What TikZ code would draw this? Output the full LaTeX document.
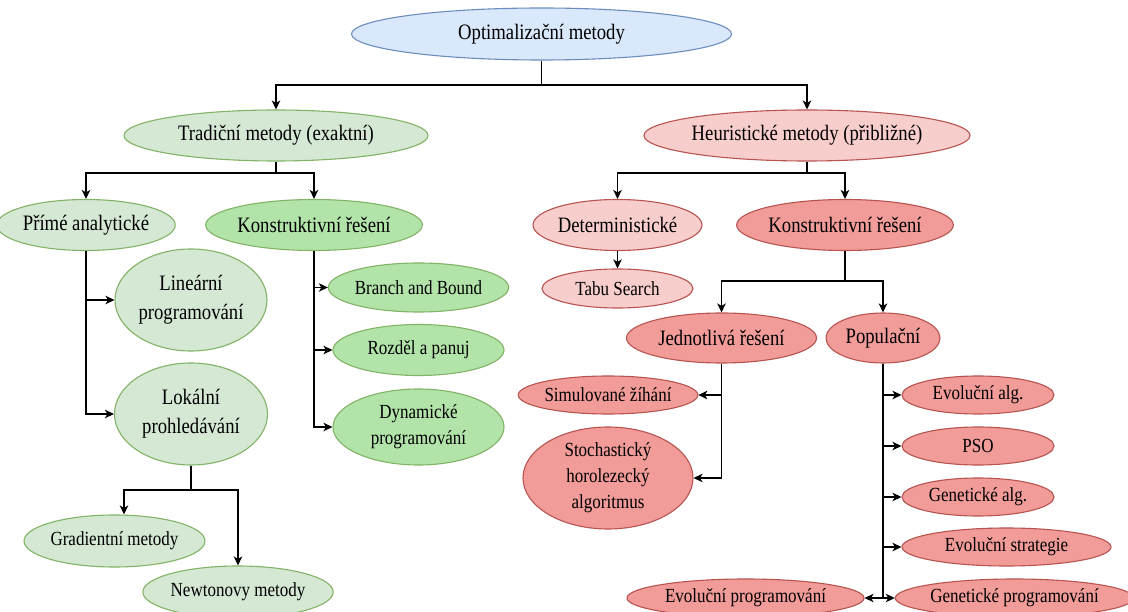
\documentclass[tikz,border=0pt]{standalone}
\usepackage{fontspec}
\setmainfont{Liberation Serif}[FakeStretch=0.85]
\usetikzlibrary{shapes.geometric,arrows.meta}
\definecolor{rootF}{HTML}{DAE8FC}
\definecolor{rootD}{HTML}{6C8EBF}
\definecolor{glF}{HTML}{D5E8D4}
\definecolor{gD}{HTML}{82B366}
\definecolor{gdF}{HTML}{B2E4AA}
\definecolor{rlF}{HTML}{F8CECC}
\definecolor{rD}{HTML}{B85450}
\definecolor{rdF}{HTML}{F19C99}
\newcommand\bigfnt{\fontsize{22}{29}\selectfont}
\newcommand\smfnt{\fontsize{20}{26}\selectfont}
\tikzset{
  base/.style={ellipse, draw, line width=1.1pt, inner sep=0pt, align=center, text=black},
  nroot/.style={base, fill=rootF, draw=rootD, font=\bigfnt},
  nglb/.style={base, fill=glF, draw=gD, font=\bigfnt},
  ngls/.style={base, fill=glF, draw=gD, font=\smfnt},
  ngdb/.style={base, fill=gdF, draw=gD, font=\bigfnt},
  ngds/.style={base, fill=gdF, draw=gD, font=\smfnt},
  nrlb/.style={base, fill=rlF, draw=rD, font=\bigfnt},
  nrls/.style={base, fill=rlF, draw=rD, font=\smfnt},
  nrdb/.style={base, fill=rdF, draw=rD, font=\bigfnt},
  nrds/.style={base, fill=rdF, draw=rD, font=\smfnt},
  ln/.style={line width=1.4pt, black},
  arr/.style={ln, -{Stealth[length=9pt, width=8.5pt, inset=2.5pt]}},
  sz/.style 2 args={minimum width=#1, minimum height=#2}
}
\begin{document}
\begin{tikzpicture}[x=1pt, y=-1pt]
\useasboundingbox (0,0) rectangle (1128,612);
\fill[white] (0,0) rectangle (1128,612);

% nodes
\node[nroot, sz={380}{52}] (root) at (541.5,34) {Optimalizační metody};
\node[nglb, sz={304}{51}] (trad) at (276,135.5) {Tradiční metody (exaktní)};
\node[nrlb, sz={304}{51}] (heur) at (807,135.5) {Heuristické metody (přibližné)};

\node[nglb, sz={152}{51}] (prime) at (86,225) {Přímé analytické};
\node[ngdb, sz={190}{51}] (konG) at (314,225) {Konstruktivní řešení};
\node[nglb, sz={152}{102}] (lin) at (191,300) {Lineární\\programování};
\node[nglb, sz={153}{102}] (lok) at (191,414) {Lokální\\prohledávání};
\node[ngls, sz={173}{52}] (grad) at (114.5,541) {Gradientní metody};
\node[ngls, sz={170}{52}] (newt) at (238,592) {Newtonovy metody};
\node[ngds, sz={171}{49}] (bab) at (418.5,287.5) {Branch and Bound};
\node[ngds, sz={171}{51}] (roz) at (418.5,350) {Rozděl a panuj};
\node[ngds, sz={171}{76}] (dyn) at (418.5,427) {Dynamické\\programování};

\node[nrlb, sz={151}{51}] (det) at (617.5,225) {Deterministické};
\node[nrls, sz={151}{39}] (tabu) at (617.5,288.5) {Tabu Search};
\node[nrdb, sz={190}{51}] (konR) at (845,225) {Konstruktivní řešení};
\node[nrdb, sz={190}{50}] (jed) at (721.5,338) {Jednotlivá řešení};
\node[nrdb, sz={114}{50}] (pop) at (883,338) {Populační};
\node[nrds, sz={170}{38}] (sim) at (608,395) {Simulované žíhání};
\node[nrds, sz={170}{102}] (sto) at (608,478) {Stochastický\\horolezecký\\algoritmus};
\node[nrds, sz={152}{38}] (ea) at (978,395) {Evoluční alg.};
\node[nrds, sz={152}{38}] (pso) at (978,446) {PSO};
\node[nrds, sz={152}{38}] (ga) at (978,497) {Genetické alg.};
\node[nrds, sz={209}{38}] (es) at (1006.5,547) {Evoluční strategie};
\node[nrds, sz={225}{38}] (gp) at (1014.5,598) {Genetické programování};
\node[nrds, sz={237}{38}] (ep) at (745.5,598) {Evoluční programování};

% connectors
\coordinate (c0) at (541.5,85);
\draw[ln] (root) -- (c0);
\draw[arr] (c0) -| (trad);
\draw[arr] (c0) -| (heur);

\coordinate (c1) at (276,173);
\draw[ln] (trad) -- (c1);
\draw[arr] (c1) -| (prime);
\draw[arr] (c1) -| (konG);

\draw[arr] (prime) |- (lin);
\draw[arr] (prime) |- (lok);

\coordinate (c2) at (191,490);
\coordinate (c3) at (124,490);
\draw[ln] (lok) -- (c2);
\draw[arr] (c2) -| (newt);
\draw[arr] (c2) -- (c3) -- (c3 |- grad.north);

\draw[arr] (konG) |- (bab);
\draw[arr] (konG) |- (roz);
\draw[arr] (konG) |- (dyn);

\coordinate (c4) at (807,173);
\draw[ln] (heur) -- (c4);
\draw[arr] (c4) -| (det);
\draw[arr] (c4) -| (konR);
\draw[arr] (det) -- (tabu);

\coordinate (c5) at (845,281);
\draw[ln] (konR) -- (c5);
\draw[arr] (c5) -| (jed);
\draw[arr] (c5) -| (pop);

\draw[arr] (jed) |- (sim);
\draw[arr] (jed) |- (sto);

\draw[arr] (pop) |- (ea);
\draw[arr] (pop) |- (pso);
\draw[arr] (pop) |- (ga);
\draw[arr] (pop) |- (es);
\draw[arr] (pop) |- (gp);
\draw[arr] (pop) |- (ep);
\end{tikzpicture}
\end{document}
